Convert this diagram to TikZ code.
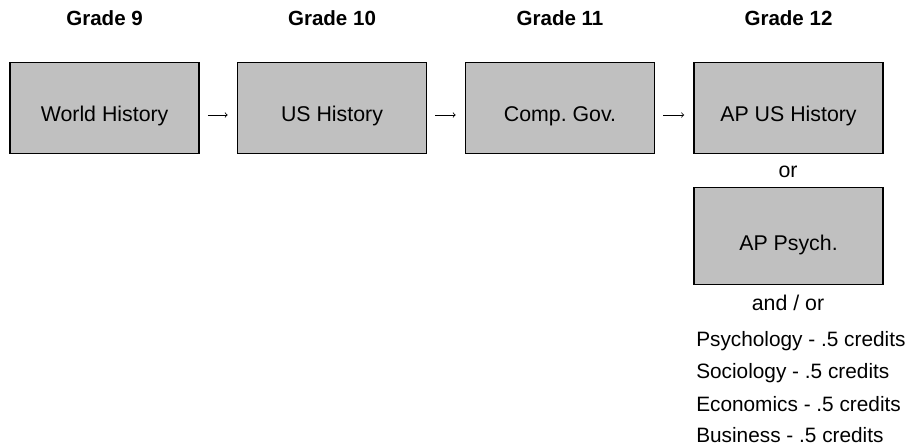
\documentclass[tikz,border=0pt]{standalone}
\usepackage{fontspec}
\setmainfont{Liberation Sans}
\frenchspacing
\begin{document}
\begin{tikzpicture}[x=0.75pt,y=-0.75pt,
  course/.style={draw=black, fill=boxgray, line width=1.2pt, rectangle, inner sep=0pt,
    minimum width=141.75pt, minimum height=68.25pt, text height=20.85pt, text depth=0pt,
    font=\fontsize{16pt}{19pt}\selectfont},
  grade/.style={anchor=base, font=\fontsize{15.4pt}{18pt}\selectfont\bfseries},
  plain/.style={anchor=base, font=\fontsize{16pt}{19pt}\selectfont},
  item/.style={anchor=base west, inner sep=0pt, font=\fontsize{15.6pt}{19pt}\selectfont},
  flow/.style={-to, line width=0.6pt, shorten <=6pt, shorten >=6.8pt}]
\definecolor{boxgray}{HTML}{C0C0C0}
\useasboundingbox (0,0) rectangle (909,446);
% headings
\node[grade] (g9)  at (104.6,25.7) {Grade 9};
\node[grade] (g10) at (332,25.7) {Grade 10};
\node[grade] (g11) at (560,25.7) {Grade 11};
\node[grade] (g12) at (788.5,25.7) {Grade 12};
% boxes
\node[course] (b1) at (104.6,107.8) {World History};
\node[course] (b2) at (332,107.8) {US History};
\node[course] (b3) at (560,107.8) {Comp. Gov.};
\node[course] (b4) at (788.5,107.8) {AP US History};
\node[course, minimum height=72.75pt, text height=22.5pt] (b5) at (788.5,235.8) {AP Psych.};
% arrows
\draw[flow] ([yshift=-5.4pt]b1.east) -- ([yshift=-5.4pt]b2.west);
\draw[flow] ([yshift=-5.4pt]b2.east) -- ([yshift=-5.4pt]b3.west);
\draw[flow] ([yshift=-5.4pt]b3.east) -- ([yshift=-5.4pt]b4.west);
% texts
\node[plain] (or) at (788,177.3) {or};
\node[plain] (andor) at (788,310) {and / or};
\node[item] (psy) at (696,346) {Psychology - .5 credits};
\node[item] (soc) at (696,378.5) {Sociology - .5 credits};
\node[item] (eco) at (696,411) {Economics - .5 credits};
\node[item] (bus) at (696,442.8) {Business - .5 credits};
\end{tikzpicture}
\end{document}
